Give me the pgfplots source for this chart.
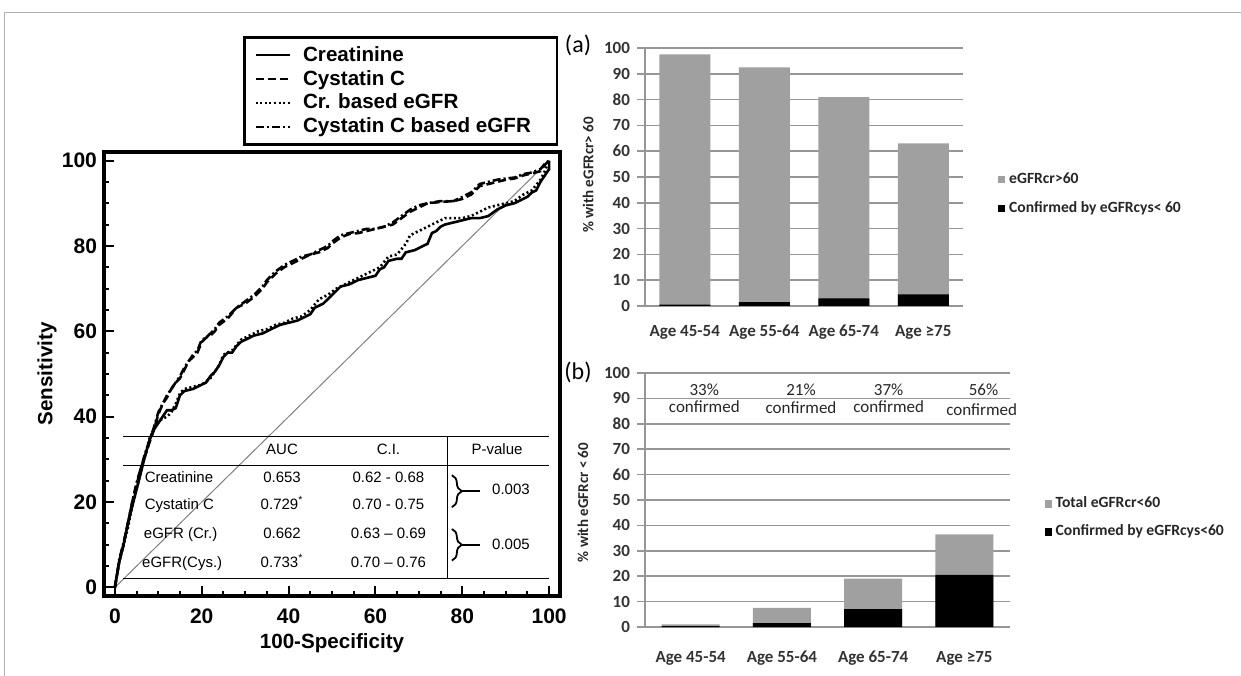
\documentclass[border=0pt]{standalone}
\usepackage{fontspec}
\setmainfont{Liberation Sans}
\newfontfamily\calib{Carlito}
\usepackage{pgfplots}
\pgfplotsset{compat=1.18}
\usetikzlibrary{decorations.pathreplacing}
\definecolor{barGray}{RGB}{160,160,160}
\definecolor{gridGray}{RGB}{150,150,150}

\begin{document}
\begin{tikzpicture}
\path[use as bounding box] (0,0) rectangle (620.5pt,337.5pt);
\draw[gray!60, line width=0.5pt] (2pt,-1pt) -- (2pt,331pt) -- (622pt,331pt);

% ---- ROC curves
\begin{axis}[
  at={(52pt,39.5pt)}, anchor=south west,
  scale only axis, width=228pt, height=222pt,
  xmin=-2.5, xmax=102.5, ymin=-2, ymax=102,
  xtick={0,20,...,100}, ytick={0,20,...,100},
  minor tick num=3,
  tick align=inside, xtick pos=bottom, ytick pos=left,
  major tick length=5pt, minor tick length=2.5pt,
  every tick/.style={black, line width=1pt},
  axis line style={line width=1.6pt},
  ticklabel style={font=\fontsize{10.5}{12}\selectfont\bfseries},
  xticklabel style={yshift=-3pt},
  /pgf/number format/assume math mode=true,
  xlabel={100-Specificity}, ylabel={Sensitivity},
  every axis x label/.style={at={(axis description cs:0.5,-0.106)}, anchor=center,
    font=\fontsize{10.3}{12}\selectfont\bfseries},
  every axis y label/.style={at={(axis description cs:-0.125,0.5)}, rotate=90, anchor=center,
    font=\fontsize{10.3}{12}\selectfont\bfseries},
  legend style={at={(axis description cs:0.305,1.261)}, anchor=north west,
    draw=black, line width=1.3pt, font=\fontsize{10.3}{11}\selectfont\bfseries,
    inner xsep=5pt, inner ysep=3.5pt, row sep=1.2pt, nodes={inner ysep=0.9pt},
    /tikz/every odd column/.append style={column sep=4pt}},
  legend cell align=left,
  clip=false,
]
\addplot[forget plot, gray, line width=0.5pt] coordinates {(0,0) (100,100)};

\addplot[black, line width=1.3pt] coordinates {
(0,0) (0.5,3) (1,6) (2,10) (3,15) (4,19) (5,23) (6,27) (7,31) (8,34.5) (9,37)
(10,38.5) (11,40) (12,41.5) (13,41.5) (14,42) (15,45) (16,46) (18,46.5) (20,47.5)
(21,48) (22,49.5) (23,50.5) (24,52) (25,54) (26,55) (27,55) (28,56.5) (29,57.5)
(30,58) (32,59) (34,59.5) (36,60.5) (38,61.5) (40,62) (42,62.5) (44,63.5) (45,64)
(46,65.5) (47,66) (48,66.5) (50,68.5) (52,70.5) (54,71) (56,72) (58,72.5) (60,73)
(61,74.5) (62,75) (63,76.5) (65,77) (66,77) (67,78.5) (69,79) (71,80) (72,80.5)
(73,83) (74,83.5) (75,84.5) (76,85) (78,85.5) (80,86) (82,86.5) (84,86.5) (86,87)
(88,88.5) (90,89.5) (92,90) (93,90.5) (95,91.5) (96,92.5) (97,93) (98,95) (99,96.5)
(100,98) (100,100)};
\addlegendentry{Creatinine}

\addplot[black, line width=1.3pt, dash pattern=on 4pt off 2pt] coordinates {
(0,0) (0.5,3) (1,6) (2,10) (3,15) (4,20) (5,24) (6,28) (7,31) (8,34) (9,37)
(10,40.5) (11,43) (12,44.5) (13,46.5) (14,48) (15,49) (16,51) (17,53) (18,54)
(19,55) (20,57.5) (21,58.5) (22,59) (23,60) (24,61.5) (26,63) (28,65.5) (30,66.5)
(32,68) (34,70) (35,71.5) (37,73.5) (39,75) (41,76) (43,77) (45,78) (47,78.5)
(49,79.5) (50,80.5) (52,82) (54,82.8) (56,83) (58,83.5) (60,84) (62,84.5) (64,85)
(66,86.5) (68,88) (70,89) (72,90) (75,90.3) (78,90.5) (80,91) (82,92) (84,94)
(86,94.5) (88,95) (90,95.5) (92,95.8) (94,96.5) (96,97) (98,97.5) (99,99) (100,100)};
\addlegendentry{Cystatin C}

\addplot[black, line width=1.3pt, dash pattern=on 1pt off 1.3pt] coordinates {
(0,0) (1,6) (2,10) (3,14) (4,19) (5,23) (6,27) (7,31) (8,35) (9,37) (10,39)
(11,39.5) (12,40) (13,41) (14,43) (15,45.5) (16,46.5) (18,47) (20,47.5) (22,49)
(24,52) (25,54.5) (27,55.5) (29,58) (31,59) (33,60) (35,60.5) (37,61.5) (39,62)
(41,63) (43,63.5) (45,65) (47,67.5) (49,68.5) (51,70) (53,71) (55,72) (57,73)
(59,74) (61,75) (63,77.5) (65,78) (67,80.5) (68,82.5) (70,83.5) (72,84.5) (74,85.5)
(76,86.5) (78,86.5) (80,86.5) (82,87) (84,88) (86,89) (88,89.5) (90,90) (92,90.5)
(94,92) (96,93) (98,95.5) (99,97.5) (100,100)};
\addlegendentry{Cr. based eGFR}

\addplot[black, line width=1.3pt, dash pattern=on 4pt off 1.5pt on 1pt off 1.5pt] coordinates {
(0,0) (0.5,3) (1,6.5) (2,10.5) (3,15) (4,20) (5,24.5) (6,28) (7,31.5) (8,34.5)
(9,37.5) (10,41) (11,43) (12,45) (13,46.5) (14,48) (15,49.5) (16,51.5) (17,53)
(18,54.5) (19,55.5) (20,58) (21,58.5) (22,59.5) (23,60.5) (24,62) (26,63.5) (28,65.5)
(30,67) (32,68.5) (34,70.5) (35,72) (37,74) (39,75.5) (41,76.5) (43,77.5) (45,78)
(47,79) (49,80) (50,81) (52,82.5) (54,83) (56,83.5) (58,84) (60,84) (62,84.5)
(64,85.5) (66,87) (68,88.5) (70,89.5) (72,90) (75,90.5) (78,90.5) (80,91.5) (82,92.5)
(84,94.5) (86,95) (88,95.5) (90,95.8) (92,96) (94,96.8) (96,97.2) (98,98) (99,99.2)
(100,100)};
\addlegendentry{\makebox[120pt][l]{Cystatin C based eGFR}}

% table of AUC values
\draw[line width=0.6pt] (1.9,35.3) -- (100,35.3);
\draw[line width=0.6pt] (1.9,28.6) -- (100,28.6);
\draw[line width=0.6pt] (1.9,2.1) -- (100,2.1);
\draw[line width=0.6pt] (76.6,35.3) -- (76.6,2.1);
\begin{scope}[font=\fontsize{7.5}{9}\selectfont,
  every node/.append style={text height=5.6pt, text depth=1.6pt}]
\node at (38.5,32) {AUC};
\node at (63,32) {C.I.};
\node at (88,32) {P-value};
\node[anchor=west, inner xsep=0pt] at (6.8,25.6) {Creatinine};
\node[anchor=west, inner xsep=0pt] at (6.8,19.1) {Cystatin C};
\node[anchor=west, inner xsep=0pt] at (6.6,12.3) {eGFR (Cr.)};
\node[anchor=west, inner xsep=0pt] at (6.2,5.6) {eGFR(Cys.)};
\node at (38.5,25.6) {0.653};
\node at (38.5,19.1) {0.729\textsuperscript{*}};
\node at (38.5,12.3) {0.662};
\node at (38.5,5.6) {0.733\textsuperscript{*}};
\node at (63,25.6) {0.62 - 0.68};
\node at (63,19.1) {0.70 - 0.75};
\node at (63,12.3) {0.63 – 0.69};
\node at (63,5.6) {0.70 – 0.76};
\node at (91.2,22.6) {0.003};
\node at (91.2,9.8) {0.005};
\end{scope}
\draw[decorate, decoration={brace, amplitude=5pt}, line width=0.9pt] (77.6,26.3) -- (77.6,18.8);
\draw[line width=0.9pt] (79.9,22.55) -- (84,22.55);
\draw[decorate, decoration={brace, amplitude=5pt}, line width=0.9pt] (77.6,13.7) -- (77.6,6.3);
\draw[line width=0.9pt] (79.9,10) -- (84,10);
\end{axis}

\node[font=\calib\fontsize{12}{14}\selectfont] at (289pt,315pt) {(a)};
\node[font=\calib\fontsize{12}{14}\selectfont] at (289pt,151.5pt) {(b)};

% ---- (a) eGFRcr > 60
\begin{axis}[
  at={(322.5pt,184.5pt)}, anchor=south west,
  scale only axis, width=159pt, height=129pt,
  xmin=-0.5, xmax=3.5, ymin=0, ymax=100,
  ybar, bar width=25.5pt,
  xtick={0,1,2,3}, xticklabels={Age 45-54, Age 55-64, Age 65-74, Age ≥75},
  ytick={0,10,...,100},
  axis x line*=bottom, axis y line*=left,
  axis line style={gridGray, line width=0.8pt},
  ymajorgrids, grid style={gridGray, line width=0.8pt},
  x tick style={draw=none}, y tick style={gridGray, line width=0.8pt},
  tick align=outside, major tick length=4pt,
  ticklabel style={font=\calib\fontsize{8.5}{10}\selectfont\bfseries, text=black!80},
  xticklabel style={yshift=-2pt},
  /pgf/number format/assume math mode=true,
  ylabel={\% with eGFRcr> 60},
  every axis y label/.style={at={(axis description cs:-0.179,0.508)}, rotate=90, anchor=center,
    font=\calib\fontsize{7.5}{9}\selectfont\bfseries, text=black!85},
  legend style={at={(axis description cs:1.09,0.55)}, anchor=north west, draw=none, fill=none,
    font=\calib\fontsize{7.8}{9}\selectfont\bfseries, text=black!85, row sep=3.5pt},
  legend cell align=left,
]
\addplot[fill=barGray, draw=none, bar shift=0pt,
  legend image code/.code={\fill[barGray] (0pt,-1.8pt) rectangle (3.6pt,1.8pt);}]
  coordinates {(0,97.5) (1,92.5) (2,81) (3,63)};
\addlegendentry{eGFRcr>60}
\addplot[fill=black, draw=none, bar shift=0pt,
  legend image code/.code={\fill[black] (0pt,-1.8pt) rectangle (3.6pt,1.8pt);}]
  coordinates {(0,0.5) (1,1.5) (2,3) (3,4.5)};
\addlegendentry{Confirmed by eGFRcys< 60}
\end{axis}

% ---- (b) eGFRcr < 60
\begin{axis}[
  at={(322.5pt,24pt)}, anchor=south west,
  scale only axis, width=182.5pt, height=127pt,
  xmin=-0.5, xmax=3.5, ymin=0, ymax=100,
  ybar, bar width=29pt,
  xtick={0,1,2,3}, xticklabels={Age 45-54, Age 55-64, Age 65-74, Age ≥75},
  ytick={0,10,...,100},
  axis x line*=bottom, axis y line*=left,
  axis line style={gridGray, line width=0.8pt},
  ymajorgrids, grid style={gridGray, line width=0.8pt},
  x tick style={draw=none}, y tick style={gridGray, line width=0.8pt},
  tick align=outside, major tick length=4pt,
  ticklabel style={font=\calib\fontsize{8.5}{10}\selectfont\bfseries, text=black!80},
  xticklabel style={yshift=-4.5pt},
  /pgf/number format/assume math mode=true,
  ylabel={\% with eGFRcr < 60},
  every axis y label/.style={at={(axis description cs:-0.17,0.49)}, rotate=90, anchor=center,
    font=\calib\fontsize{7.5}{9}\selectfont\bfseries, text=black!85},
  legend style={at={(axis description cs:1.077,0.545)}, anchor=north west, draw=none, fill=none,
    font=\calib\fontsize{7.8}{9}\selectfont\bfseries, text=black!85, row sep=3pt},
  legend cell align=left,
  clip=false,
]
\addplot[fill=barGray, draw=none, bar shift=0pt,
  legend image code/.code={\fill[barGray] (0pt,-1.8pt) rectangle (3.6pt,1.8pt);}]
  coordinates {(0,1) (1,7.5) (2,19) (3,36.5)};
\addlegendentry{Total eGFRcr<60}
\addplot[fill=black, draw=none, bar shift=0pt,
  legend image code/.code={\fill[black] (0pt,-1.8pt) rectangle (3.6pt,1.8pt);}]
  coordinates {(0,0.3) (1,1.5) (2,7) (3,20.5)};
\addlegendentry{Confirmed by eGFRcys<60}
\begin{scope}[font=\calib\fontsize{8.5}{10}\selectfont, text=black!85]
\node at (0.15,93.3) {33\%};
\node at (0.15,86.6) {confirmed};
\node at (1.21,93.3) {21\%};
\node at (1.21,86.2) {confirmed};
\node at (2.17,93.3) {37\%};
\node at (2.17,86.6) {confirmed};
\node at (3.21,93.3) {56\%};
\node at (3.19,85.6) {confirmed};
\end{scope}
\end{axis}
\end{tikzpicture}
\end{document}
